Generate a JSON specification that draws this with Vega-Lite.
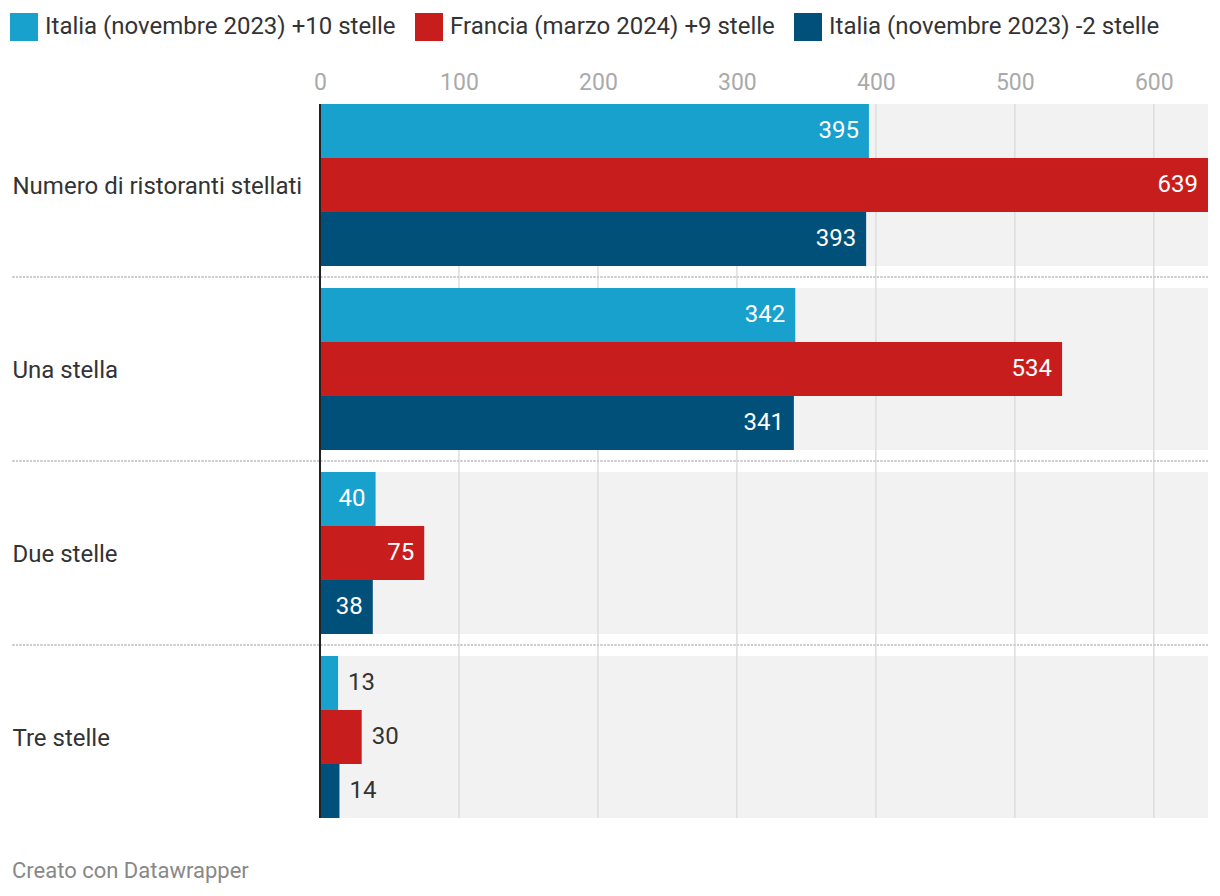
{
  "$schema": "https://vega.github.io/schema/vega-lite/v6.json",
  "width": 1196,
  "height": 714,
  "autosize": {"type": "none"},
  "padding": {"left": 12, "top": 104, "right": 12, "bottom": 78},
  "background": "#ffffff",
  "config": {
    "font": "Roboto",
    "view": {"stroke": null},
    "text": {"font": "Roboto"}
  },
  "title": {
    "text": "Creato con Datawrapper",
    "orient": "bottom",
    "anchor": "start",
    "frame": "group",
    "fontSize": 22,
    "fontWeight": "normal",
    "color": "#888888",
    "offset": 42
  },
  "data": {
    "values": [
      {"cat": "Numero di ristoranti stellati", "serie": "Italia (novembre 2023) +10 stelle", "value": 395},
      {"cat": "Numero di ristoranti stellati", "serie": "Francia (marzo 2024) +9 stelle", "value": 639},
      {"cat": "Numero di ristoranti stellati", "serie": "Italia (novembre 2023) -2 stelle", "value": 393},
      {"cat": "Una stella", "serie": "Italia (novembre 2023) +10 stelle", "value": 342},
      {"cat": "Una stella", "serie": "Francia (marzo 2024) +9 stelle", "value": 534},
      {"cat": "Una stella", "serie": "Italia (novembre 2023) -2 stelle", "value": 341},
      {"cat": "Due stelle", "serie": "Italia (novembre 2023) +10 stelle", "value": 40},
      {"cat": "Due stelle", "serie": "Francia (marzo 2024) +9 stelle", "value": 75},
      {"cat": "Due stelle", "serie": "Italia (novembre 2023) -2 stelle", "value": 38},
      {"cat": "Tre stelle", "serie": "Italia (novembre 2023) +10 stelle", "value": 13},
      {"cat": "Tre stelle", "serie": "Francia (marzo 2024) +9 stelle", "value": 30},
      {"cat": "Tre stelle", "serie": "Italia (novembre 2023) -2 stelle", "value": 14}
    ]
  },
  "layer": [
    {
      "mark": {"type": "rect", "color": "#f2f2f2"},
      "encoding": {
        "y": {
          "field": "cat", "type": "nominal", "title": null,
          "sort": ["Numero di ristoranti stellati", "Una stella", "Due stelle", "Tre stelle"],
          "scale": {"paddingInner": 0.1196, "paddingOuter": 0}
        },
        "x": {"datum": 0, "type": "quantitative"},
        "x2": {"datum": 639}
      }
    },
    {
      "data": {"values": [{"tick": 100}, {"tick": 200}, {"tick": 300}, {"tick": 400}, {"tick": 500}, {"tick": 600}]},
      "mark": {"type": "rule", "color": "#dddddd", "strokeWidth": 1.5},
      "encoding": {
        "x": {"field": "tick", "type": "quantitative", "title": null}
      }
    },
    {
      "transform": [{"filter": "datum.cat !== 'Tre stelle'"}],
      "mark": {"type": "rule", "color": "#cccccc", "strokeWidth": 1.5, "strokeDash": [2, 1.5], "yOffset": 11},
      "encoding": {
        "y": {"field": "cat", "type": "nominal", "bandPosition": 1, "title": null,
              "sort": ["Numero di ristoranti stellati", "Una stella", "Due stelle", "Tre stelle"]}
      }
    },
    {
      "mark": {"type": "bar"},
      "encoding": {
        "y": {
          "field": "cat", "type": "nominal", "title": null,
          "sort": ["Numero di ristoranti stellati", "Una stella", "Due stelle", "Tre stelle"],
          "scale": {"paddingInner": 0.1196, "paddingOuter": 0},
          "axis": {
            "orient": "left", "domain": false, "ticks": false, "tickSize": 0, "grid": false,
            "labelAlign": "left", "labelPadding": 0, "labelFontSize": 24, "labelColor": "#333333",
            "labelLimit": 400, "labelFont": "Roboto", "labelOffset": 2, "title": null
          }
        },
        "yOffset": {
          "field": "serie", "type": "nominal",
          "sort": ["Italia (novembre 2023) +10 stelle", "Francia (marzo 2024) +9 stelle", "Italia (novembre 2023) -2 stelle"],
          "scale": {"paddingInner": 0, "paddingOuter": 0}
        },
        "x": {
          "field": "value", "type": "quantitative", "title": null,
          "scale": {"domain": [0, 639], "range": [308, 1196], "nice": false, "zero": true},
          "axis": {
            "orient": "top", "values": [0, 100, 200, 300, 400, 500, 600], "domain": false, "ticks": false, "tickSize": 0,
            "grid": false, "labelFontSize": 23, "labelColor": "#aaaaaa", "labelPadding": 10, "labelFont": "Roboto",
            "labelFlush": false, "title": null
          }
        },
        "color": {
          "field": "serie", "type": "nominal",
          "sort": ["Italia (novembre 2023) +10 stelle", "Francia (marzo 2024) +9 stelle", "Italia (novembre 2023) -2 stelle"],
          "scale": {
            "domain": ["Italia (novembre 2023) +10 stelle", "Francia (marzo 2024) +9 stelle", "Italia (novembre 2023) -2 stelle"],
            "range": ["#18a1cd", "#c71e1d", "#00507a"]
          },
          "legend": {
            "orient": "none", "legendX": -2, "legendY": -91, "direction": "horizontal", "columns": 3,
            "title": null, "symbolType": "square", "symbolSize": 784, "symbolStrokeWidth": 0, "symbolOpacity": 1,
            "labelFontSize": 24, "labelColor": "#333333", "labelFont": "Roboto", "labelOffset": 7, "columnPadding": 19,
            "labelLimit": 500, "padding": 0
          }
        }
      }
    },
    {
      "mark": {"type": "rule", "color": "#222222", "strokeWidth": 2},
      "encoding": {"x": {"datum": 0, "type": "quantitative"}}
    },
    {
      "transform": [{"filter": "datum.value >= 35"}],
      "mark": {"type": "text", "align": "right", "baseline": "middle", "dx": -10, "fontSize": 24, "color": "#ffffff"},
      "encoding": {
        "y": {"field": "cat", "type": "nominal", "title": null, "sort": ["Numero di ristoranti stellati", "Una stella", "Due stelle", "Tre stelle"]},
        "yOffset": {"field": "serie", "type": "nominal", "sort": ["Italia (novembre 2023) +10 stelle", "Francia (marzo 2024) +9 stelle", "Italia (novembre 2023) -2 stelle"]},
        "x": {"field": "value", "type": "quantitative", "title": null},
        "text": {"field": "value", "type": "quantitative"}
      }
    },
    {
      "transform": [{"filter": "datum.value < 35"}],
      "mark": {"type": "text", "align": "left", "baseline": "middle", "dx": 10, "fontSize": 24, "color": "#333333"},
      "encoding": {
        "y": {"field": "cat", "type": "nominal", "title": null, "sort": ["Numero di ristoranti stellati", "Una stella", "Due stelle", "Tre stelle"]},
        "yOffset": {"field": "serie", "type": "nominal", "sort": ["Italia (novembre 2023) +10 stelle", "Francia (marzo 2024) +9 stelle", "Italia (novembre 2023) -2 stelle"]},
        "x": {"field": "value", "type": "quantitative", "title": null},
        "text": {"field": "value", "type": "quantitative"}
      }
    }
  ]
}
